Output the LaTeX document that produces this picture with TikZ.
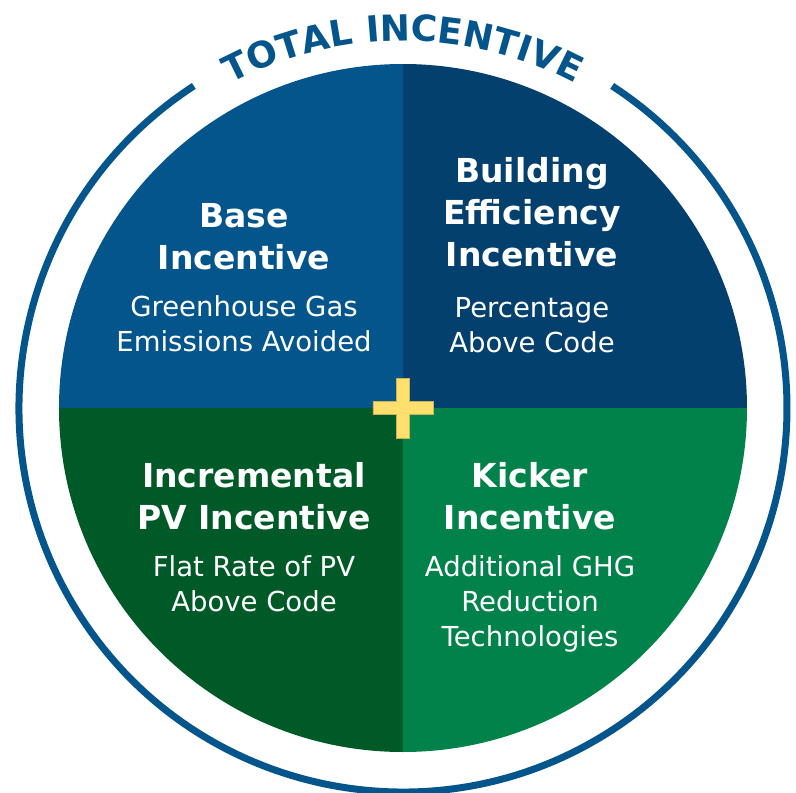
\documentclass[tikz,border=0pt]{standalone}
\usepackage{fontspec}
\setmainfont{DejaVu Sans}
\usetikzlibrary{decorations.text}

\definecolor{baseblue}{HTML}{04558C}
\definecolor{navyblue}{HTML}{03406E}
\definecolor{darkgreen}{HTML}{005A28}
\definecolor{midgreen}{HTML}{00824A}
\definecolor{plusyellow}{HTML}{FFDF6E}

\begin{document}
\begin{tikzpicture}[x=1pt, y=1pt,
    headtext/.style={text=white, align=center, anchor=north, inner sep=0pt,
                     font=\fontsize{33}{42}\selectfont\bfseries},
    subtext/.style={text=white, align=center, anchor=north, inner sep=0pt,
                    font=\fontsize{27.5}{35}\selectfont}]
  \useasboundingbox (-403,-385) rectangle (393,408);

  % ring, open at the top for the title
  \draw [baseblue, line width=7] (123:384) arc [start angle=123, end angle=417, radius=384];

  \path [decorate, decoration={text along path, text align=center,
         text={|\fontsize{36}{36}\selectfont\bfseries\color{baseblue}|TOTAL INCENTIVE}}]
        (150:367) arc [start angle=150, end angle=30, radius=367];

  % the four quarters
  \foreach \a/\c in {90/baseblue, 0/navyblue, 180/darkgreen, 270/midgreen}
    {
      \fill [\c] (0,0) -- (\a:344) arc [start angle=\a, delta angle=90, radius=344] -- cycle;
    }

  % plus sign
  \filldraw [fill=plusyellow, draw=plusyellow!80!black, line width=0.8]
        (-30,6.5) -- (-6.5,6.5) -- (-6.5,30) -- (6.5,30) -- (6.5,6.5) -- (30,6.5)
        -- (30,-6.5) -- (6.5,-6.5) -- (6.5,-30) -- (-6.5,-30) -- (-6.5,-6.5) -- (-30,-6.5) -- cycle;

  \node [headtext] (base) at (-159,205) {Base\\Incentive};
  \node [subtext] (basesub) at (-159,113) {Greenhouse Gas\\Emissions Avoided};

  \node [headtext] (building) at (129,251) {Building\\Efficiency\\Incentive};
  \node [subtext] (buildingsub) at (129,111) {Percentage\\Above Code};

  \node [headtext] (pv) at (-149,-54) {Incremental\\PV Incentive};
  \node [subtext] (pvsub) at (-149,-147) {Flat Rate of PV\\Above Code};

  \node [headtext] (kicker) at (127,-54) {Kicker\\Incentive};
  \node [subtext] (kickersub) at (127,-147) {Additional GHG\\Reduction\\Technologies};
\end{tikzpicture}
\end{document}
